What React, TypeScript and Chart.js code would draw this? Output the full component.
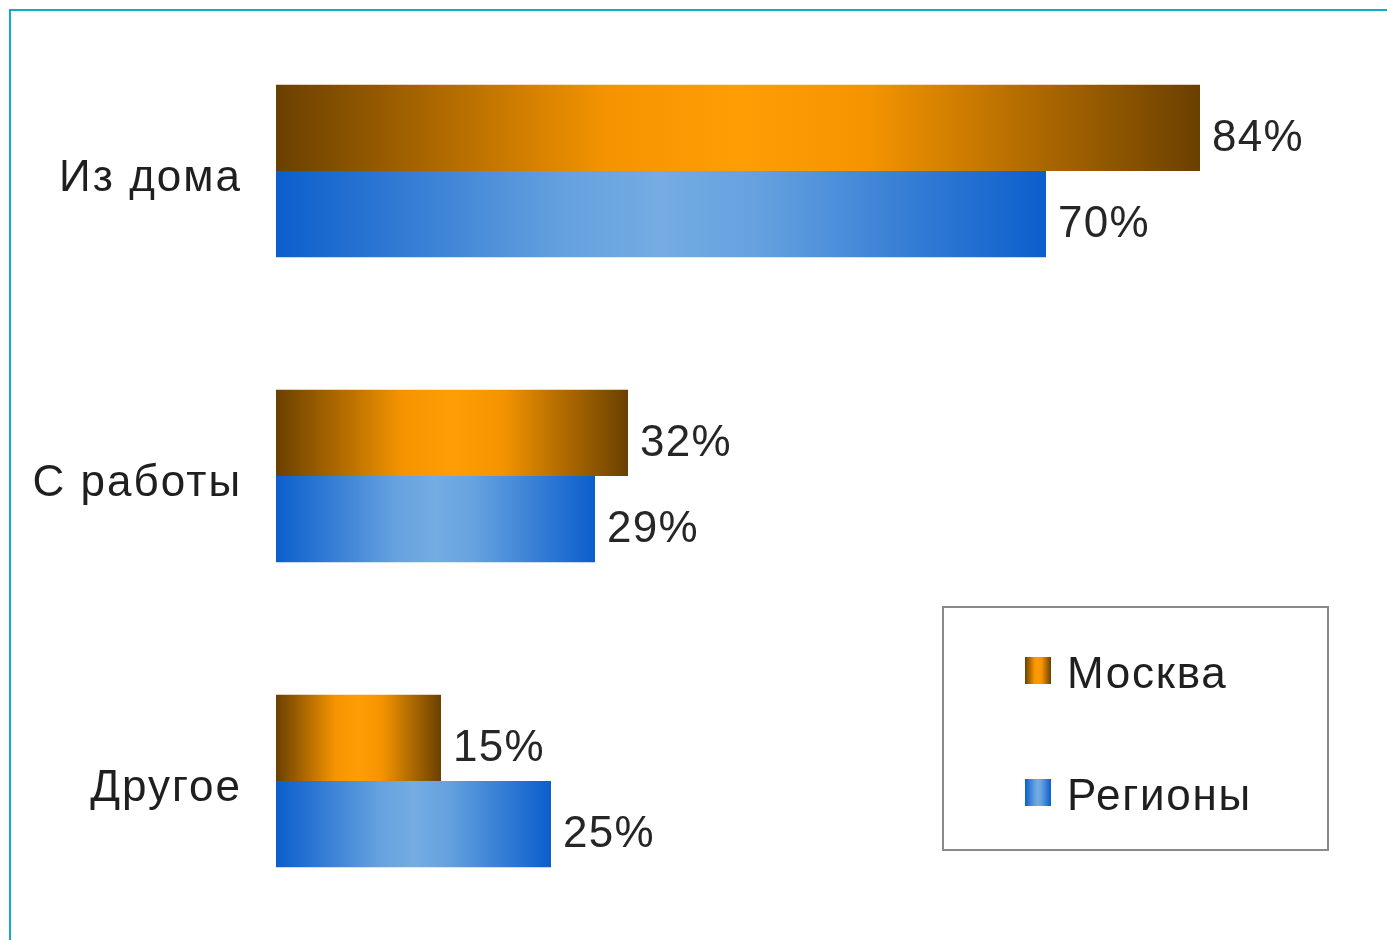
import React, { useEffect, useRef } from "react";
import { Chart, registerables } from "chart.js";

Chart.register(...registerables);

const categories = ["Из дома", "С работы", "Другое"];
const moscowValues = [84, 32, 15];
const regionValues = [70, 29, 25];
const seriesNames = ["Москва", "Регионы"];

const FONT = "'Liberation Sans', Arial, sans-serif";

const orangeStops: [number, string][] = [
  [0, "#6a4000"],
  [0.36, "#f59400"],
  [0.5, "#ff9d05"],
  [0.64, "#f59400"],
  [1, "#6a4000"],
];
const blueStops: [number, string][] = [
  [0, "#0b5ecc"],
  [0.38, "#66a2df"],
  [0.5, "#74ace3"],
  [0.62, "#66a2df"],
  [1, "#0b5ecc"],
];

function makeGrad(c: CanvasRenderingContext2D, x0: number, x1: number, stops: [number, string][]) {
  const g = c.createLinearGradient(x0, 0, x1 === x0 ? x0 + 1 : x1, 0);
  stops.forEach(([o, col]) => g.addColorStop(o, col));
  return g;
}

function barFill(stops: [number, string][]) {
  return (ctx: any) => {
    const chart = ctx.chart;
    const sx = chart.scales && chart.scales.x;
    if (!chart.chartArea || !sx || ctx.type !== "data") return stops[2][1];
    const x0 = sx.getPixelForValue(0);
    const x1 = sx.getPixelForValue(ctx.raw);
    return makeGrad(chart.ctx, x0, x1, stops);
  };
}

const spacing = {
  id: "spacing",
  beforeDraw(chart: any) {
    (chart.ctx as any).letterSpacing = "2px";
  },
};

const valueLabels = {
  id: "valueLabels",
  afterDatasetsDraw(chart: any) {
    const c = chart.ctx as any;
    c.save();
    c.letterSpacing = "1.3px";
    c.font = `44px ${FONT}`;
    c.fillStyle = "#262626";
    c.textAlign = "left";
    c.textBaseline = "alphabetic";
    chart.data.datasets.forEach((ds: any, di: number) => {
      const meta = chart.getDatasetMeta(di);
      meta.data.forEach((el: any, i: number) => {
        c.fillText(`${ds.data[i]}%`, el.x + 12, el.y + 23);
      });
    });
    c.restore();
  },
};

const boxLegend = {
  id: "boxLegend",
  afterDraw(chart: any) {
    const c = chart.ctx as any;
    c.save();
    c.letterSpacing = "1.7px";
    c.fillStyle = "#ffffff";
    c.fillRect(943, 607, 385, 243);
    c.strokeStyle = "#8a8a8a";
    c.lineWidth = 2;
    c.strokeRect(943, 607, 385, 243);
    const rows = [
      { y: 657, stops: orangeStops },
      { y: 779, stops: blueStops },
    ];
    c.font = `44px ${FONT}`;
    c.textBaseline = "alphabetic";
    chart.data.datasets.forEach((ds: any, i: number) => {
      const r = rows[i];
      c.fillStyle = makeGrad(c, 1025, 1051, r.stops);
      c.fillRect(1025, r.y, 26, 27);
      c.fillStyle = "#1f1f1f";
      c.fillText(ds.label, 1067, r.y + 31);
    });
    c.restore();
  },
};

export default function App() {
  const ref = useRef<HTMLCanvasElement | null>(null);
  useEffect(() => {
    if (!ref.current) return;
    const chart = new Chart(ref.current, {
      type: "bar",
      data: {
        labels: categories,
        datasets: [
          {
            label: seriesNames[0],
            data: moscowValues,
            backgroundColor: barFill(orangeStops),
            borderWidth: 0,
            categoryPercentage: 0.565,
            barPercentage: 1,
          },
          {
            label: seriesNames[1],
            data: regionValues,
            backgroundColor: barFill(blueStops),
            borderWidth: 0,
            categoryPercentage: 0.565,
            barPercentage: 1,
          },
        ],
      },
      options: {
        indexAxis: "y",
        responsive: false,
        animation: false,
        layout: { padding: { left: 0, top: 18.5, bottom: 6.5, right: 11 } },
        plugins: {
          legend: { display: false },
          tooltip: { enabled: false },
        },
        scales: {
          x: {
            display: false,
            min: 0,
            max: 100,
          },
          y: {
            grid: { display: false, drawTicks: false },
            border: { display: false },
            ticks: {
              color: "#1f1f1f",
              font: { size: 44, family: FONT },
              padding: 34,
              labelOffset: 8,
            },
            afterFit(scale: any) {
              scale.width = 276;
              scale.paddingTop = 0;
              scale.paddingBottom = 0;
            },
          },
        },
      },
      plugins: [spacing, valueLabels, boxLegend],
    });
    return () => chart.destroy();
  }, []);
  return (
    <div style={{ position: "absolute", left: 0, top: 0, width: 1387, height: 940, background: "#ffffff" }}>
      <canvas ref={ref} width={1387} height={940} style={{ position: "absolute", left: 0, top: 0 }} />
      <div
        style={{
          position: "absolute",
          left: 9,
          top: 9,
          width: 1378,
          height: 931,
          boxSizing: "border-box",
          borderTop: "2px solid #14aacf",
          borderLeft: "2px solid #14aacf",
          pointerEvents: "none",
        }}
      />
    </div>
  );
}
